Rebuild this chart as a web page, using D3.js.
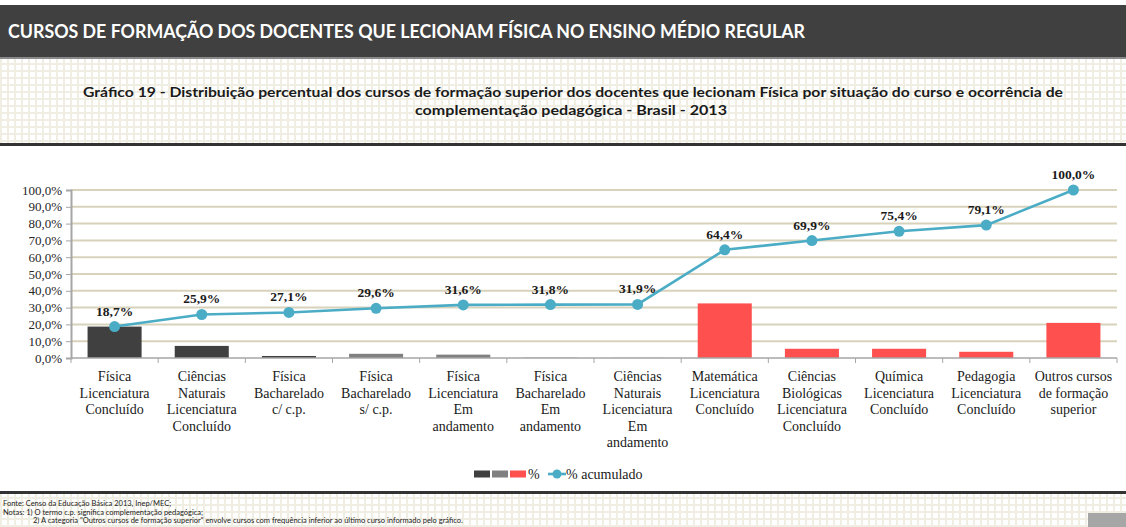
<!DOCTYPE html>
<html>
<head>
<meta charset="utf-8">
<script src="https://cdn.jsdelivr.net/npm/d3@7"></script>
<style>
  html, body { margin: 0; padding: 0; background: #fff; }
  svg { display: block; }
</style>
</head>
<body>
<svg id="chart" width="1126" height="527"></svg>
<script>
const categories = [
  ['Física', 'Licenciatura', 'Concluído'],
  ['Ciências', 'Naturais', 'Licenciatura', 'Concluído'],
  ['Física', 'Bacharelado', 'c/ c.p.'],
  ['Física', 'Bacharelado', 's/ c.p.'],
  ['Física', 'Licenciatura', 'Em', 'andamento'],
  ['Física', 'Bacharelado', 'Em', 'andamento'],
  ['Ciências', 'Naturais', 'Licenciatura', 'Em', 'andamento'],
  ['Matemática', 'Licenciatura', 'Concluído'],
  ['Ciências', 'Biológicas', 'Licenciatura', 'Concluído'],
  ['Química', 'Licenciatura', 'Concluído'],
  ['Pedagogia', 'Licenciatura', 'Concluído'],
  ['Outros cursos', 'de formação', 'superior']
]
const percent = [18.7, 7.2, 1.2, 2.5, 2.0, 0.2, 0.1, 32.5, 5.5, 5.5, 3.7, 20.9]
const accumulated = [18.7, 25.9, 27.1, 29.6, 31.6, 31.8, 31.9, 64.4, 69.9, 75.4, 79.1, 100.0]
const barGroup = ['dark', 'dark', 'dark', 'grey', 'grey', 'grey', 'grey',
                  'red', 'red', 'red', 'red', 'red']
const yTicks = [0, 10, 20, 30, 40, 50, 60, 70, 80, 90, 100]

const headerText = 'CURSOS DE FORMAÇÃO DOS DOCENTES QUE LECIONAM FÍSICA NO ENSINO MÉDIO REGULAR'
const titleLines = [
  'Gráfico 19 - Distribuição percentual dos cursos de formação superior dos docentes que lecionam Física por situação do curso e ocorrência de',
  'complementação pedagógica - Brasil - 2013'
]
const notes = [
  'Fonte: Censo da Educação Básica 2013, Inep/MEC;',
  'Notas: 1) O termo c.p. significa complementação pedagógica;',
  '2) A categoria "Outros cursos de formação superior" envolve cursos com frequência inferior ao último curso informado pelo gráfico.'
]

const colors = { dark: '#404040', grey: '#808080', red: '#ff5050' }
const lineColor = '#4bacc6'
const serif = '"Liberation Serif", "DejaVu Serif", serif'
const sans = 'Lato, "Open Sans", sans-serif'

const svg = d3.select('#chart')
const W = 1126

// grid paper pattern
const defs = svg.append('defs')
const pat = defs.append('pattern')
    .attr('id', 'grid')
    .attr('width', 7).attr('height', 7)
    .attr('patternUnits', 'userSpaceOnUse')
pat.append('rect').attr('width', 7).attr('height', 7).attr('fill', '#fff')
pat.append('rect').attr('width', 7).attr('height', 2).attr('fill', '#f0eee3')
pat.append('rect').attr('width', 2).attr('height', 7).attr('fill', '#f0eee3')

// header band
svg.append('rect').attr('x', 0).attr('y', 5).attr('width', W).attr('height', 52).attr('fill', '#404040')
svg.append('rect').attr('x', 0).attr('y', 57).attr('width', W).attr('height', 2).attr('fill', '#8a8a8a')
svg.append('text')
    .attr('x', 8).attr('y', 38)
    .attr('fill', '#fff')
    .attr('font-family', sans)
    .attr('font-weight', 700)
    .attr('font-size', 18)
    .attr('textLength', 797)
    .attr('lengthAdjust', 'spacingAndGlyphs')
    .text(headerText)

// title block
svg.append('rect').attr('x', 0).attr('y', 59).attr('width', W).attr('height', 84).attr('fill', 'url(#grid)')
svg.append('rect').attr('x', 0).attr('y', 143).attr('width', W).attr('height', 3).attr('fill', '#333')
const tl = [[83, 97, 980], [415, 115, 312]]
titleLines.forEach((t, i) => {
  svg.append('text')
      .attr('x', tl[i][0]).attr('y', tl[i][1])
      .attr('font-family', sans)
      .attr('font-weight', 700)
      .attr('font-size', 13)
      .attr('fill', '#1a1a1a')
      .attr('textLength', tl[i][2])
      .attr('lengthAdjust', 'spacingAndGlyphs')
      .text(t)
})

// chart
const margin = { left: 71, right: 9 }
const x = d3.scaleBand()
    .domain(d3.range(categories.length))
    .range([margin.left, W - margin.right])
    .paddingInner(0.38).paddingOuter(0.19)
const xb = d3.scaleBand()
    .domain(d3.range(categories.length))
    .range([margin.left, W - margin.right])
const y = d3.scaleLinear().domain([0, 100]).range([358, 190])

// gridlines
svg.append('g')
  .selectAll('line')
  .data(yTicks.slice(1))
  .join('line')
    .attr('x1', margin.left).attr('x2', W - margin.right)
    .attr('y1', d => y(d)).attr('y2', d => y(d))
    .attr('stroke', '#d8d2bb')
    .attr('stroke-width', 2)

// y axis
const yAxis = svg.append('g')
    .attr('transform', `translate(${margin.left},0)`)
    .call(d3.axisLeft(y).tickValues(yTicks).tickSize(5).tickPadding(4)
      .tickFormat(d => d3.format('.1f')(d).replace('.', ',') + '%'))
yAxis.select('.domain').attr('stroke', '#a6a6a6').attr('stroke-width', 2)
yAxis.selectAll('.tick line').attr('stroke', '#a6a6a6')
yAxis.selectAll('.tick text')
    .attr('font-family', serif).attr('font-size', 13).attr('fill', '#262626')

// bars
svg.append('g')
  .selectAll('rect')
  .data(percent)
  .join('rect')
    .attr('x', (d, i) => x(i))
    .attr('width', x.bandwidth())
    .attr('y', d => y(d))
    .attr('height', d => y(0) - y(d))
    .attr('fill', (d, i) => colors[barGroup[i]])

// x axis
const xAxis = svg.append('g')
    .attr('transform', `translate(0,${y(0)})`)
xAxis.append('line')
    .attr('x1', margin.left).attr('x2', W - margin.right)
    .attr('stroke', '#a6a6a6').attr('stroke-width', 1.5)
xAxis.selectAll('.tk')
  .data(d3.range(categories.length + 1))
  .join('line')
    .attr('class', 'tk')
    .attr('x1', i => margin.left + i * xb.step())
    .attr('x2', i => margin.left + i * xb.step())
    .attr('y1', 0).attr('y2', 5)
    .attr('stroke', '#a6a6a6')
const labels = svg.append('g')
  .selectAll('text')
  .data(categories)
  .join('text')
    .attr('x', (d, i) => xb(i) + xb.bandwidth() / 2)
    .attr('y', 381)
    .attr('text-anchor', 'middle')
    .attr('font-family', serif)
    .attr('font-size', 14)
    .attr('fill', '#1a1a1a')
labels.selectAll('tspan')
  .data(d => d)
  .join('tspan')
    .attr('x', function () { return this.parentNode.getAttribute('x') })
    .attr('dy', (d, i) => i === 0 ? 0 : 16.6)
    .text(d => d)

// accumulated line
const cx = i => xb(i) + xb.bandwidth() / 2
svg.append('path')
    .datum(accumulated)
    .attr('fill', 'none')
    .attr('stroke', lineColor)
    .attr('stroke-width', 2.6)
    .attr('d', d3.line().x((d, i) => cx(i)).y(d => y(d)))
svg.append('g')
  .selectAll('circle')
  .data(accumulated)
  .join('circle')
    .attr('cx', (d, i) => cx(i))
    .attr('cy', d => y(d))
    .attr('r', 5.5)
    .attr('fill', lineColor)
svg.append('g')
  .selectAll('text')
  .data(accumulated)
  .join('text')
    .attr('x', (d, i) => cx(i))
    .attr('y', d => y(d) - 11)
    .attr('text-anchor', 'middle')
    .attr('font-family', serif)
    .attr('font-weight', 700)
    .attr('font-size', 13.5)
    .attr('fill', '#1a1a1a')
    .text(d => d3.format('.1f')(d).replace('.', ',') + '%')

// legend
const lg = svg.append('g').attr('transform', 'translate(474,474)')
;['dark', 'grey', 'red'].forEach((k, i) => {
  lg.append('rect').attr('x', i * 18).attr('y', -3.5).attr('width', 16).attr('height', 7).attr('fill', colors[k])
})
lg.append('text').attr('x', 54).attr('y', 5).attr('font-family', serif).attr('font-size', 14)
    .attr('fill', '#1a1a1a').text('%')
lg.append('line').attr('x1', 74).attr('x2', 92).attr('y1', 0).attr('y2', 0)
    .attr('stroke', lineColor).attr('stroke-width', 2.6)
lg.append('circle').attr('cx', 83).attr('cy', 0).attr('r', 4.5).attr('fill', lineColor)
lg.append('text').attr('x', 92).attr('y', 5).attr('font-family', serif).attr('font-size', 14)
    .attr('fill', '#1a1a1a').text('% acumulado')

// footer
svg.append('rect').attr('x', 0).attr('y', 491).attr('width', W).attr('height', 3).attr('fill', '#333')
svg.append('rect').attr('x', 0).attr('y', 494).attr('width', W).attr('height', 33).attr('fill', 'url(#grid)')
const nx = [3, 3, 33], ny = [506, 514.5, 523]
notes.forEach((t, i) => {
  svg.append('text')
      .attr('x', nx[i]).attr('y', ny[i])
      .attr('font-family', sans)
      .attr('font-size', 7.5)
      .attr('fill', '#1a1a1a')
      .text(t)
})
svg.append('rect').attr('x', 1088).attr('y', 513).attr('width', 38).attr('height', 14).attr('fill', '#a6a6a6')
</script>
</body>
</html>
